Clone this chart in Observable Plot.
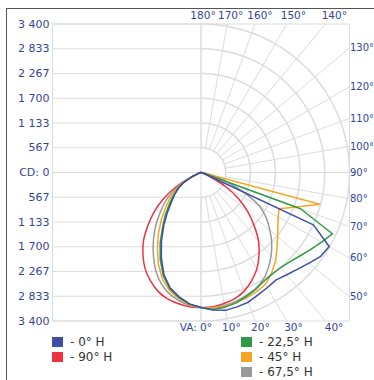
<!DOCTYPE html>
<html><head><meta charset="utf-8">
<script src="https://cdn.jsdelivr.net/npm/d3@7"></script>
<script src="https://cdn.jsdelivr.net/npm/@observablehq/plot@0.6"></script>
<style>
body{margin:0;background:#fff;width:374px;height:380px;overflow:hidden;position:relative;font-family:"DejaVu Sans",sans-serif}
#frame{position:absolute;left:6px;top:8px;width:420px;height:420px;border-left:1px solid #555;border-top:1px solid #555}
#chart{position:absolute;left:0;top:0}
.sw{position:absolute;width:11px;height:10px}
.lt{position:absolute;font-size:12px;line-height:12px;color:#333;white-space:nowrap}
</style></head><body>
<div id="frame"></div>
<div id="chart"></div>
<div id="legend"></div>
<script>
// vertical angles (degrees from nadir)
const angles = [0,5,10,15,20,25,30,35,40,45,50,55,60,65,70,75,80,85,90];
// luminous intensity (cd), right half = C plane, left half = opposite plane
const h0Right  = [3090,3160,3205,3185,3160,3090,3040,3000,3055,3130,3230,3345,3390,2840,70,25,0,0,0];
const h0Left   = [3090,3020,2890,2735,2485,2150,1810,1490,1200,960,790,630,460,230,70,25,0,0,0];
const h22Right = [3090,3150,3135,3090,3025,2955,2875,2840,2840,2885,2965,3070,3185,3320,2425,45,25,0,0];
const h22Left  = [3090,3025,2905,2755,2520,2205,1870,1535,1270,1025,830,660,475,225,70,25,0,0,0];
const h45Right = [3090,3115,3115,3090,3055,3010,2955,2815,2655,2460,2290,2150,2040,1970,2315,2815,45,25,0];
const h45Left  = [3090,3040,2930,2795,2590,2310,1995,1695,1415,1150,940,735,510,220,70,25,0,0,0];
const h67Right = [3090,3105,3090,3055,3000,2940,2840,2680,2495,2290,2060,1830,1555,1100,640,320,135,45,0];
const h67Left  = [3090,3055,2970,2860,2690,2460,2180,1900,1625,1340,1095,845,560,205,70,25,0,0,0];
const h90Right = [3090,3085,3045,2990,2890,2735,2555,2315,2050,1720,1395,1055,665,230,70,25,0,0,0];
const h90Left  = [3090,3085,3045,2990,2890,2735,2555,2315,2050,1720,1395,1055,665,230,70,25,0,0,0];

const seriesNames = ["- 0° H","- 22,5° H","- 45° H","- 67,5° H","- 90° H"];
const seriesColors = ["#3d4ea6","#2f9a45","#f6a623","#999999","#ee3340"];

const yTicks = [-3400,-2833,-2267,-1700,-1133,-567,0,567,1133,1700,2267,2833,3400];
const yTickLabels = ["3 400","2 833","2 267","1 700","1 133","567","CD: 0","567","1 133","1 700","2 267","2 833","3 400"];
const rings = [567,1133,1700,2267,2833,3400];
const spokeAngles = [0,10,20,30,40,50,60,70,80,90,100,110,120,130,140,150,160,170,180];
const topAngles = [180,170,160,150,140];
const rightAngles = [130,120,110,100,90,80,70,60,50];
const bottomAngles = [0,10,20,30,40];

const R = 3400;
const rad = d => d*Math.PI/180;

// curves
const curveData = [
  [h0Left,h0Right],[h22Left,h22Right],[h45Left,h45Right],[h67Left,h67Right],[h90Left,h90Right]
].map(([L,Rt])=>{
  const pts=[];
  for(let i=angles.length-1;i>=0;i--){const g=rad(angles[i]);pts.push({x:-L[i]*Math.sin(g),y:L[i]*Math.cos(g)});}
  for(let i=0;i<angles.length;i++){const g=rad(angles[i]);pts.push({x:Rt[i]*Math.sin(g),y:Rt[i]*Math.cos(g)});}
  return pts;
});

// polar grid (right half)
const arcPts=[];
for(const r of rings){for(let a=0;a<=180;a+=2){arcPts.push({r,x:r*Math.sin(rad(a)),y:r*Math.cos(rad(a))});}}
const spokes = spokeAngles.map(a=>{
  const s=Math.sin(rad(a)), c=Math.cos(rad(a));
  let t=Infinity; if(s>1e-9) t=Math.min(t,R/s); if(Math.abs(c)>1e-9) t=Math.min(t,R/Math.abs(c));
  return {x1:567*s,y1:567*c,x2:t*s,y2:t*c};
});
const topLab = topAngles.map(a=>{const Y=-3583;const t=Y/Math.cos(rad(a));return {x:t*Math.sin(rad(a)),y:Y,t:a+"°"};});
const rightLab = rightAngles.map(a=>{const t=R/Math.sin(rad(a));return {x:R,y:t*Math.cos(rad(a)),t:a+"°"};});
const bottomLab = bottomAngles.filter(a=>a>0).map(a=>{const Y=3549;return {x:Y*Math.tan(rad(a)),y:Y,t:a+"°"};});

const labelColor="#34449c";
const gridColor="#dcdcdc";
const marks=[
  Plot.ruleY(yTicks,{x1:-R,x2:0,stroke:gridColor}),
  Plot.ruleY([-R,R],{x1:-R,x2:R,stroke:gridColor}),
  Plot.ruleX([-R,0,R],{y1:-R,y2:R,stroke:gridColor}),
  Plot.line(arcPts,{x:"x",y:"y",z:"r",stroke:gridColor,curve:"linear"}),
  Plot.link(spokes,{x1:"x1",y1:"y1",x2:"x2",y2:"y2",stroke:gridColor}),
  Plot.text(yTicks,{x:-R,y:d=>d,text:(d,i)=>yTickLabels[i],textAnchor:"end",dx:-3,fill:labelColor,fontSize:11}),
  Plot.text(topLab,{x:"x",y:"y",text:"t",fill:labelColor,fontSize:10.5,dx:2,ariaLabel:"angle"}),
  Plot.text(rightLab,{x:"x",y:"y",text:"t",textAnchor:"start",dx:0.5,fill:labelColor,fontSize:10,ariaLabel:"angle"}),
  Plot.text(bottomLab,{x:"x",y:"y",text:"t",dx:3,fill:labelColor,fontSize:10.5,ariaLabel:"angle"}),
  Plot.text([{x:0,y:3549}],{x:"x",y:"y",text:()=> "VA: 0°",textAnchor:"end",dx:11,fill:labelColor,fontSize:10.5,ariaLabel:"angle"})
];
const order=[4,3,2,1,0];
for(const k of order){
  marks.push(Plot.line(curveData[k],{x:"x",y:"y",stroke:seriesColors[k],strokeWidth:1.5,strokeLinejoin:"round",curve:(k>=3?"catmull-rom":"linear")}));
}

const chart = Plot.plot({
  width:374, height:332,
  x:{domain:[-R,R],range:[52,349],axis:null},
  y:{domain:[-R,R],range:[23.5,320.5],axis:null},
  style:{fontFamily:"DejaVu Sans, sans-serif",background:"transparent"},
  marks
});
d3.select(chart).selectAll('g[aria-label="angle"] text').attr("letter-spacing","-0.5");
document.getElementById("chart").appendChild(chart);

// legend
const legendPos = [
  {k:0,x:52,y:337},{k:4,x:52,y:352},
  {k:1,x:241,y:337},{k:2,x:241,y:352},{k:3,x:241,y:367}
];
const lg=document.getElementById("legend");
for(const p of legendPos){
  const s=document.createElement("div");s.className="sw";s.style.left=p.x+"px";s.style.top=p.y+"px";s.style.background=seriesColors[p.k];lg.appendChild(s);
  const t=document.createElement("div");t.className="lt";t.style.left=(p.x+18)+"px";t.style.top=(p.y-1)+"px";t.textContent=seriesNames[p.k];lg.appendChild(t);
}
</script>
</body></html>
